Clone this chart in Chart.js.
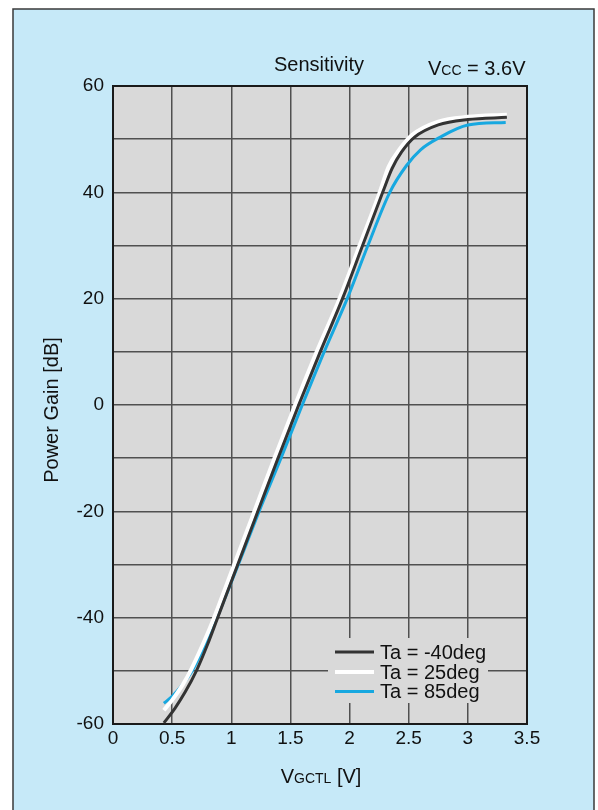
<!DOCTYPE html>
<html>
<head>
<meta charset="utf-8">
<script src="https://cdn.jsdelivr.net/npm/chart.js@4"></script>
<style>
  html, body { margin: 0; padding: 0; background: #fff; }
  canvas { display: block; }
</style>
</head>
<body>
<canvas id="sens" width="598" height="810"></canvas>
<script>
// ── data ─────────────────────────────────────────────────────
const labels = ['Ta = -40deg', 'Ta = 25deg', 'Ta = 85deg'];
const colors = ['#333333', '#ffffff', '#17a8e0'];
const widths = [3, 4, 3];

const vM40 = [0.43, 0.525, 0.61, 0.705, 0.8, 0.885, 0.97, 1.055, 1.225, 1.395, 1.57, 1.752, 1.94, 2.11, 2.28, 2.36, 2.44, 2.55, 2.75, 3.0, 3.33];
const gM40 = [-59.8, -57, -54, -50, -45, -40, -35, -30, -20, -10, 0, 10, 20, 30, 40, 44.5, 47.6, 50.4, 52.7, 53.7, 54.1];

const v25 = [0.43, 0.5, 0.59, 0.655, 0.76, 0.855, 0.94, 1.025, 1.195, 1.365, 1.54, 1.722, 1.915, 2.085, 2.255, 2.33, 2.42, 2.53, 2.75, 3.0, 3.33];
const g25 = [-57.4, -55.5, -52.6, -50, -45, -40, -35, -30, -20, -10, 0, 10, 20, 30, 40, 44.8, 48, 50.8, 53.3, 54.2, 54.6];

const v85 = [0.43, 0.5, 0.59, 0.67, 0.78, 0.88, 0.97, 1.06, 1.235, 1.42, 1.6, 1.785, 1.98, 2.155, 2.34, 2.48, 2.6, 2.76, 3.0, 3.32];
const g85 = [-56.1, -54.8, -52.5, -50, -45, -40, -35, -30, -20, -10, 0, 10, 20, 30, 40, 45, 48, 50.3, 52.65, 53.15];

const xTicks = [0, 0.5, 1, 1.5, 2, 2.5, 3, 3.5];
const yTicks = [-60, -40, -20, 0, 20, 40, 60];

const FONT = "'Liberation Sans', Arial, sans-serif";
const series = [[vM40, gM40], [v25, g25], [v85, g85]];

// ── background, frame, plot border, legend, texts ────────────
const framePlugin = {
  id: 'frame',
  beforeDraw(chart) {
    const { ctx, chartArea: a } = chart;
    ctx.save();
    ctx.fillStyle = '#ffffff';
    ctx.fillRect(0, 0, chart.width, chart.height);
    ctx.fillStyle = '#c6e9f8';
    ctx.fillRect(13, 9, 581, 820);
    ctx.strokeStyle = '#3a3a3a';
    ctx.lineWidth = 1.5;
    ctx.strokeRect(13, 9, 581, 820);
    ctx.fillStyle = '#d9d9d9';
    ctx.fillRect(a.left, a.top, a.right - a.left, a.bottom - a.top);
    ctx.restore();
  },
  beforeDatasetsDraw(chart) {
    const { ctx, chartArea: a } = chart;
    ctx.save();
    ctx.strokeStyle = '#1a1a1a';
    ctx.lineWidth = 2;
    ctx.strokeRect(a.left, a.top, a.right - a.left, a.bottom - a.top);

    // legend box (covers the grid)
    ctx.fillStyle = '#d9d9d9';
    ctx.fillRect(328, 638, 160, 65);
    ctx.font = '20px ' + FONT;
    ctx.textBaseline = 'middle';
    ctx.textAlign = 'left';
    [652, 672, 691.5].forEach((y, i) => {
      ctx.strokeStyle = colors[i];
      ctx.lineWidth = widths[i];
      ctx.beginPath();
      ctx.moveTo(335, y);
      ctx.lineTo(374, y);
      ctx.stroke();
      ctx.fillStyle = '#111';
      ctx.fillText(labels[i], 380, y + 1);
    });
    ctx.restore();
  },
  afterDraw(chart) {
    const { ctx } = chart;
    ctx.save();
    ctx.fillStyle = '#111';
    ctx.textBaseline = 'alphabetic';
    ctx.textAlign = 'left';

    ctx.font = '20px ' + FONT;
    ctx.fillText('Sensitivity', 274, 71);

    // Vcc = 3.6V
    let x = 428;
    ctx.fillText('V', x, 75);
    x += ctx.measureText('V').width;
    ctx.font = '14px ' + FONT;
    ctx.fillText('CC', x, 75);
    x += ctx.measureText('CC').width;
    ctx.font = '20px ' + FONT;
    ctx.fillText(' = 3.6V', x, 75);

    // VGCTL [V]
    const wV = ctx.measureText('V').width;
    const wB = ctx.measureText(' [V]').width;
    ctx.font = '14px ' + FONT;
    const wS = ctx.measureText('GCTL').width;
    x = 321 - (wV + wS + wB) / 2;
    ctx.font = '20px ' + FONT;
    ctx.fillText('V', x, 783);
    ctx.font = '14px ' + FONT;
    ctx.fillText('GCTL', x + wV, 783);
    ctx.font = '20px ' + FONT;
    ctx.fillText(' [V]', x + wV + wS, 783);

    // Power Gain [dB]
    ctx.translate(58, 410);
    ctx.rotate(-Math.PI / 2);
    ctx.textAlign = 'center';
    ctx.fillText('Power Gain [dB]', 0, 0);
    ctx.restore();
  }
};

new Chart(document.getElementById('sens'), {
  type: 'line',
  data: {
    datasets: series.map(([xs, ys], i) => ({
      label: labels[i],
      data: xs.map((v, k) => ({ x: v, y: ys[k] })),
      borderColor: colors[i],
      borderWidth: widths[i],
      pointRadius: 0,
      fill: false,
      cubicInterpolationMode: 'monotone',
    })),
  },
  options: {
    responsive: false,
    animation: false,
    events: [],
    layout: { padding: { top: 86, right: 71, left: 0, bottom: 0 } },
    plugins: { legend: { display: false }, tooltip: { enabled: false }, title: { display: false } },
    scales: {
      x: {
        type: 'linear', min: 0, max: 3.5,
        afterFit: s => { s.height = 86; },
        afterBuildTicks: s => { s.ticks = xTicks.map(v => ({ value: v })); },
        grid: { color: '#505050', lineWidth: 1.5, drawTicks: false },
        border: { display: false },
        ticks: { color: '#111', padding: 3, font: { family: FONT, size: 19 }, maxRotation: 0, callback: v => String(v) },
      },
      y: {
        type: 'linear', min: -60, max: 60,
        afterFit: s => { s.width = 113; },
        ticks: {
          stepSize: 10, color: '#111', padding: 9, font: { family: FONT, size: 19 },
          callback: v => yTicks.includes(v) ? String(v) : '',
        },
        grid: { color: '#505050', lineWidth: 1.5, drawTicks: false },
        border: { display: false },
      },
    },
  },
  plugins: [framePlugin],
});
</script>
</body>
</html>
